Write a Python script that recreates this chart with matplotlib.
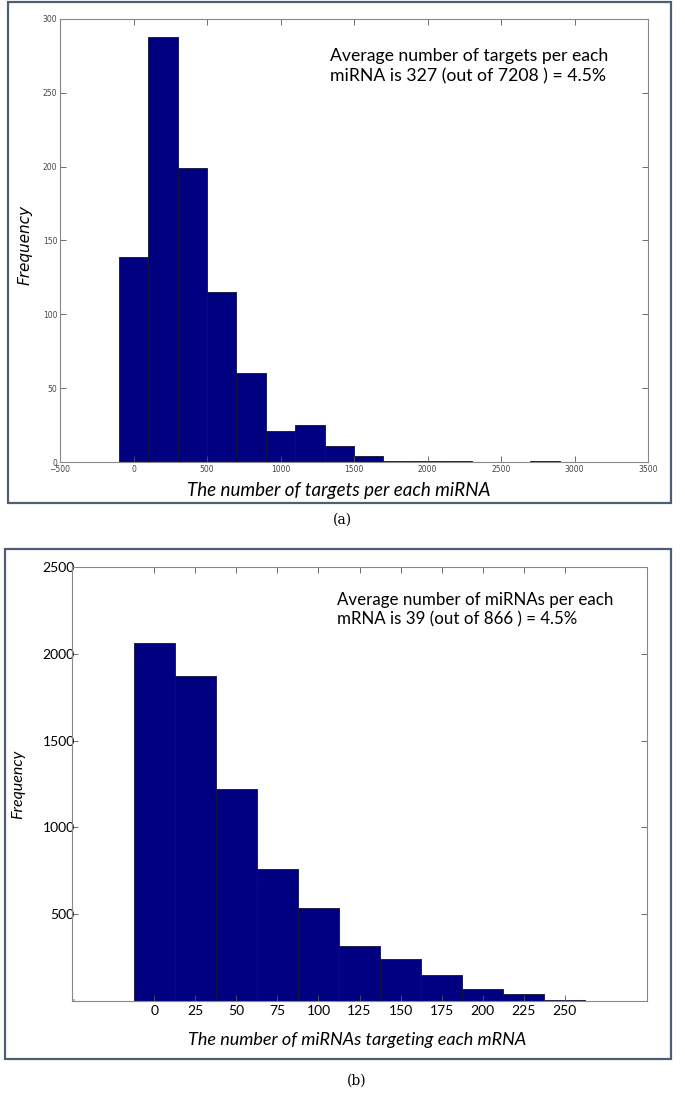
import matplotlib
matplotlib.use("Agg")
import matplotlib.pyplot as plt
from matplotlib.patches import Rectangle

# data
targets_centers = [0, 200, 400, 600, 800, 1000, 1200, 1400, 1600, 1800, 2000, 2200, 2400, 2600, 2800]
targets_counts = [139, 288, 199, 115, 60, 21, 25, 11, 4, 1, 1, 1, 0, 0, 1]
targets_xticks = [-500, 0, 500, 1000, 1500, 2000, 2500, 3000, 3500]
targets_yticks = [0, 50, 100, 150, 200, 250, 300]

mirna_centers = [0, 25, 50, 75, 100, 125, 150, 175, 200, 225, 250]
mirna_counts = [2065, 1873, 1220, 760, 535, 317, 244, 148, 69, 40, 4]
mirna_yticks = [0, 500, 1000, 1500, 2000, 2500]

note_a = "Average number of targets per each\nmiRNA is 327 (out of 7208 ) = 4.5%"
note_b = "Average number of miRNAs per each\nmRNA is 39 (out of 866 ) = 4.5%"

W, H = 685, 1106
bar_col = '#000080'
frame_col = '#4d5f74'
calib = 'Lato'

fig = plt.figure(figsize=(W / 100, H / 100), dpi=100)

# outer frames around each panel
fig.patches.append(Rectangle((8 / W, 1 - 503 / H), 663 / W, 501 / H, transform=fig.transFigure,
                             fill=False, edgecolor=frame_col, linewidth=1.6))
fig.patches.append(Rectangle((5 / W, 1 - 1059 / H), 666 / W, 510 / H, transform=fig.transFigure,
                             fill=False, edgecolor=frame_col, linewidth=1.6))

# ---- panel (a)
ax1 = fig.add_axes([60 / W, 1 - 462 / H, 588 / W, 443 / H])
ax1.bar(targets_centers, targets_counts, width=200, color=bar_col, edgecolor='#10103a', linewidth=0.6)
ax1.set_xlim(-500, 3500)
ax1.set_ylim(0, 300)
ax1.set_xticks(targets_xticks)
ax1.set_yticks(targets_yticks)
ax1.tick_params(direction='in', top=True, right=True, length=4, width=0.6, color='#555555',
                labelsize=5.5, labelcolor='#444444', pad=2)
for s in ax1.spines.values():
    s.set_color('#888888')
    s.set_linewidth(0.8)
ax1.set_xlabel('The number of targets per each miRNA', family=calib, style='italic', fontsize=13.5)
ax1.xaxis.set_label_coords(0.474, -0.045)
ax1.set_ylabel('Frequency', family='DejaVu Sans', style='italic', fontsize=11)
ax1.yaxis.set_label_coords(-0.046, 0.49)
fig.text(330 / W, 1 - 66 / H, note_a, family=calib, fontsize=12.7, va='center', ha='left',
         linespacing=1.3)
fig.text(342 / W, 1 - 520 / H, '(a)', family='DejaVu Serif', fontsize=10, ha='center', va='center')

# ---- panel (b)
ax2 = fig.add_axes([72 / W, 1 - 1001 / H, 575 / W, 434 / H])
ax2.bar(mirna_centers, mirna_counts, width=25, color=bar_col, edgecolor='#10103a', linewidth=0.6)
ax2.set_xlim(-50, 300)
ax2.set_ylim(0, 2500)
ax2.set_xticks(mirna_centers)
ax2.set_yticks(mirna_yticks)
ax2.set_yticklabels([str(v) for v in mirna_yticks])
ax2.tick_params(direction='in', top=True, right=True, length=4, width=0.6, color='#555555',
                labelsize=10, pad=3)
ax2.tick_params(axis='y', pad=-2)
ax2.get_yticklabels()[0].set_fontsize(2)
for lab in ax2.get_xticklabels() + ax2.get_yticklabels():
    lab.set_family(calib)
for s in ax2.spines.values():
    s.set_color('#888888')
    s.set_linewidth(0.8)
ax2.set_xlabel('The number of miRNAs targeting each mRNA', family=calib, style='italic', fontsize=13)
ax2.xaxis.set_label_coords(0.496, -0.071)
ax2.set_ylabel('Frequency', family=calib, style='italic', fontsize=11.5)
ax2.yaxis.set_label_coords(-0.082, 0.5)
fig.text(337 / W, 1 - 610 / H, note_b, family=calib, fontsize=12.2, va='center', ha='left',
         linespacing=1.25)
fig.text(357 / W, 1 - 1081 / H, '(b)', family='DejaVu Serif', fontsize=10, ha='center', va='center')

fig.savefig('out.png', dpi=100)
